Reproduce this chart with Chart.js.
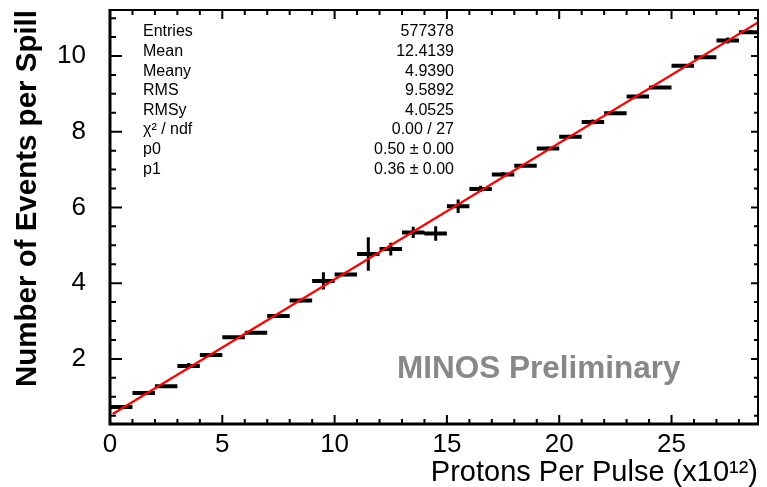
<!DOCTYPE html>
<html>
<head>
<meta charset="utf-8">
<script src="https://cdn.jsdelivr.net/npm/chart.js@4.4.1/dist/chart.umd.min.js"></script>
<style>
html, body { margin: 0; padding: 0; background: #fff; }
</style>
</head>
<body>
<canvas id="grafico_minos" width="767" height="487"></canvas>
<script>
// bins (lower edge, width 1) and the profile values
const binLow = [0, 1, 2, 3, 4, 5, 6, 7, 8, 9, 10, 11, 12, 13, 14, 15, 16, 17, 18, 19, 20, 21, 22, 23, 24, 25, 26, 27, 28]
const binWidth = 1
const eventos = [0.73, 1.10, 1.28, 1.81, 2.10, 2.57, 2.69, 3.13, 3.54, 4.06, 4.23, 4.77, 4.90, 5.34, 5.31,
                 6.03, 6.49, 6.87, 7.10, 7.56, 7.87, 8.26, 8.49, 8.93, 9.17, 9.74, 9.97, 10.41, 10.63]
const erros = [0.03, 0.03, 0.03, 0.08, 0.04, 0.03, 0.04, 0.03, 0.05, 0.23, 0.05, 0.44, 0.17, 0.15, 0.19,
               0.18, 0.08, 0.06, 0.04, 0.04, 0.03, 0.06, 0.03, 0.03, 0.03, 0.03, 0.04, 0.08, 0.05]

// linear fit p0 + p1*x
const p0 = 0.50
const p1 = 0.36
const fitRange = [0.12, 28.85]

const xTicks = [0, 5, 10, 15, 20, 25]
const yTicks = [2, 4, 6, 8, 10]

const statLabels = ['Entries', 'Mean', 'Meany', 'RMS', 'RMSy', 'χ² / ndf', 'p0', 'p1']
const statValues = ['577378', '12.4139', '4.9390', '9.5892', '4.0525', '0.00 / 27', '0.50 ± 0.00', '0.36 ± 0.00']

const preto = '#000000'
const vermelho = '#ff0000'
const fonte = '"Liberation Sans", Arial, Helvetica, sans-serif'

// horizontal bars (bin width) and vertical error bars, separated by gaps
const barrasX = []
const barrasY = []
binLow.forEach((lo, i) => {
    const hi = lo + binWidth
    const c = lo + binWidth / 2
    barrasX.push({ x: lo, y: eventos[i] }, { x: hi, y: eventos[i] }, { x: hi, y: null })
    barrasY.push({ x: c, y: eventos[i] - erros[i] }, { x: c, y: eventos[i] + erros[i] }, { x: c, y: null })
})
const ajuste = fitRange.map(x => ({ x: x, y: p0 + p1 * x }))

// frame, inward ticks, stats box and label
const quadro = {
    id: 'quadro',
    afterDraw(chart) {
        const ctx = chart.ctx
        const a = chart.chartArea
        const sx = chart.scales.x
        const sy = chart.scales.y
        ctx.save()
        ctx.strokeStyle = preto
        ctx.lineCap = 'butt'

        ctx.lineWidth = 2
        for (let v = 1; v < sx.max; v += 1) {
            const px = sx.getPixelForValue(v)
            const len = v % 5 === 0 ? 9 : 5
            ctx.beginPath()
            ctx.moveTo(px, a.bottom); ctx.lineTo(px, a.bottom - len)
            ctx.moveTo(px, a.top); ctx.lineTo(px, a.top + len)
            ctx.stroke()
        }
        for (let v = 0.5; v < sy.max; v += 0.5) {
            if (v < sy.min) continue
            const py = sy.getPixelForValue(v)
            const major = Math.abs(v % 2) < 1e-9
            ctx.beginPath()
            ctx.moveTo(a.left, py); ctx.lineTo(a.left + (major ? 12 : 6), py)
            ctx.moveTo(a.right, py); ctx.lineTo(a.right - (major ? 7 : 4), py)
            ctx.stroke()
        }

        ctx.lineWidth = 2
        ctx.beginPath()
        ctx.moveTo(a.left, a.top); ctx.lineTo(a.right, a.top); ctx.lineTo(a.right, a.bottom)
        ctx.stroke()
        ctx.lineWidth = 3
        ctx.beginPath()
        ctx.moveTo(a.left, a.top - 1); ctx.lineTo(a.left, a.bottom); ctx.lineTo(a.right + 1, a.bottom)
        ctx.stroke()

        ctx.fillStyle = preto
        ctx.font = '16px ' + fonte
        ctx.textBaseline = 'middle'
        statLabels.forEach((t, i) => {
            const y = 32 + i * 19.6
            ctx.textAlign = 'left'
            ctx.fillText(t, 143, y)
            ctx.textAlign = 'right'
            ctx.fillText(statValues[i], 454, y)
        })

        ctx.fillStyle = '#888888'
        ctx.font = 'bold 31.5px ' + fonte
        ctx.textAlign = 'left'
        ctx.fillText('MINOS Preliminary', 397, 369)
        ctx.restore()
    }
}

const data = {
    datasets: [
        {
            label: 'ajuste',
            data: ajuste,
            borderColor: vermelho,
            borderWidth: 2.3,
            pointRadius: 0,
            order: 0
        },
        {
            label: 'barras x',
            data: barrasX,
            borderColor: preto,
            borderWidth: 4,
            borderCapStyle: 'butt',
            pointRadius: 0,
            spanGaps: false,
            order: 1
        },
        {
            label: 'barras y',
            data: barrasY,
            borderColor: preto,
            borderWidth: 3,
            borderCapStyle: 'butt',
            pointRadius: 0,
            spanGaps: false,
            order: 1
        }
    ]
}

const config = {
    type: 'line',
    data: data,
    plugins: [quadro],
    options: {
        responsive: false,
        animation: false,
        devicePixelRatio: 1,
        layout: { padding: { top: 10, right: 9, left: 0, bottom: 0 } },
        plugins: {
            legend: { display: false },
            tooltip: { enabled: false }
        },
        scales: {
            x: {
                type: 'linear',
                min: 0,
                max: 28.85,
                afterBuildTicks: s => { s.ticks = xTicks.map(v => ({ value: v })) },
                afterFit: s => { s.height = 63; s.paddingLeft = 0; s.paddingRight = 0 },
                grid: { display: false },
                border: { display: false },
                ticks: {
                    color: preto,
                    font: { family: fonte, size: 26, lineHeight: 1 },
                    padding: 0,
                    maxRotation: 0
                },
                title: {
                    display: true,
                    text: 'Protons Per Pulse (x10¹²)',
                    align: 'end',
                    color: preto,
                    font: { family: fonte, size: 29, lineHeight: 1 },
                    padding: { top: 0, bottom: 0 }
                }
            },
            y: {
                type: 'linear',
                min: 0.28,
                max: 11.215,
                afterBuildTicks: s => { s.ticks = yTicks.map(v => ({ value: v })) },
                afterFit: s => { s.width = 110; s.paddingTop = 0; s.paddingBottom = 0 },
                grid: { display: false },
                border: { display: false },
                ticks: {
                    color: preto,
                    font: { family: fonte, size: 26, lineHeight: 1 },
                    padding: 16
                },
                title: {
                    display: true,
                    text: 'Number of Events per Spill',
                    align: 'end',
                    color: preto,
                    font: { family: fonte, size: 29.5, weight: 'bold', lineHeight: 1 },
                    padding: { top: 13, bottom: 0 }
                }
            }
        }
    }
}

const myChart_minos = new Chart(
    document.querySelector('#grafico_minos'),
    config,
)
</script>
</body>
</html>
